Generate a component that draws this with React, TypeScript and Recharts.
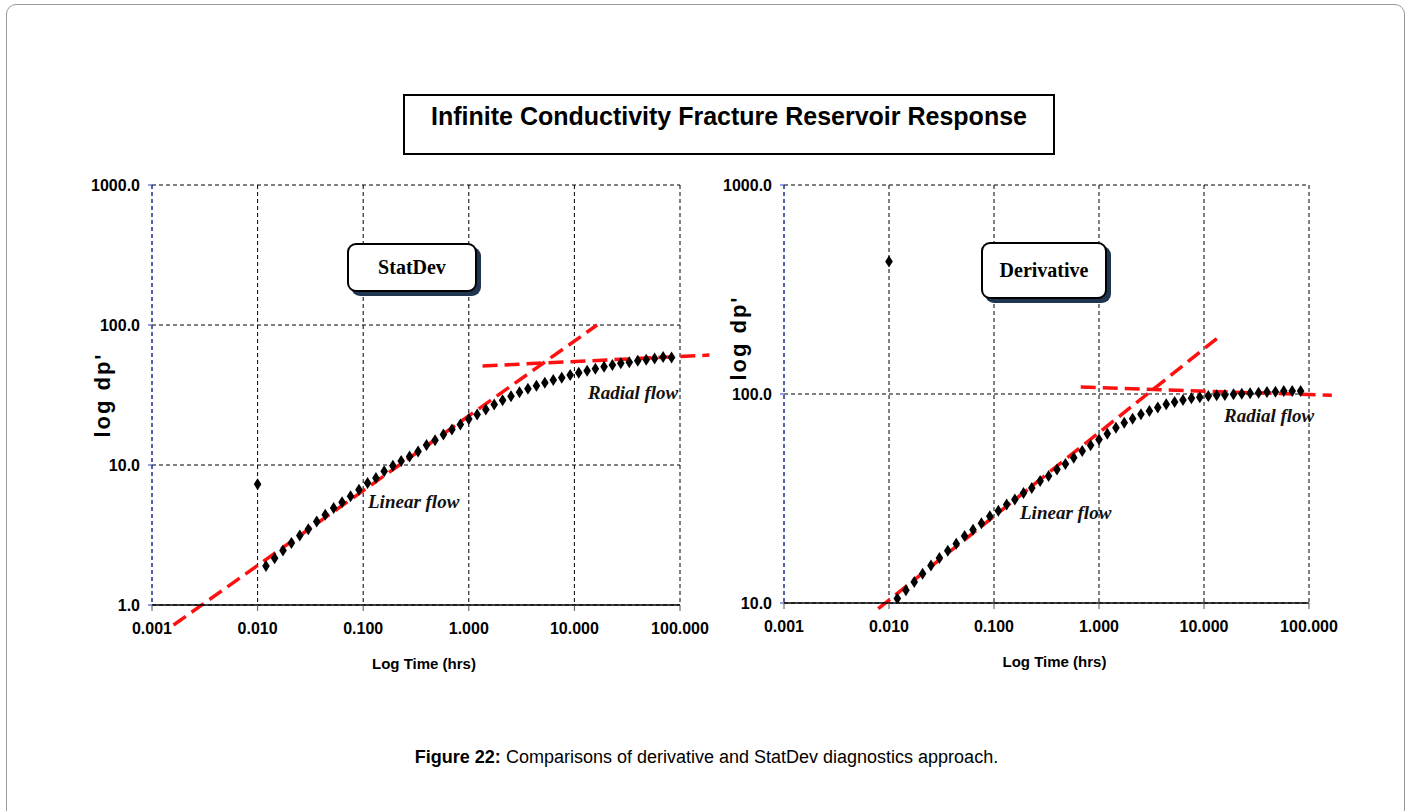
import React from 'react';
import {
    ScatterChart,
    Scatter,
    XAxis,
    YAxis,
    CartesianGrid,
    ReferenceLine,
} from 'recharts';

// sample times (hrs), shared by both panels
const times = [
    0.012, 0.0145, 0.0174, 0.0209, 0.0251, 0.0302, 0.0363, 0.0437, 0.0525, 0.0631,
    0.0759, 0.0912, 0.11, 0.132, 0.158, 0.191, 0.229, 0.275, 0.331, 0.398,
    0.479, 0.575, 0.692, 0.832, 1.0, 1.2, 1.45, 1.74, 2.09, 2.51,
    3.02, 3.63, 4.37, 5.25, 6.31, 7.59, 9.12, 11.0, 13.2, 15.8,
    19.1, 22.9, 27.5, 33.1, 39.8, 47.9, 57.5, 69.2, 83.2,
];

const statDev = [
    1.9, 2.16, 2.45, 2.77, 3.14, 3.48, 3.95, 4.41, 4.92, 5.43,
    5.97, 6.66, 7.43, 8.07, 9.01, 9.89, 10.7, 11.5, 12.5, 13.9,
    15.0, 16.5, 17.9, 19.5, 21.3, 22.9, 24.9, 27.0, 29.0, 31.0,
    33.1, 35.0, 36.8, 38.7, 40.4, 42.0, 43.9, 45.6, 47.1, 48.7,
    50.3, 51.7, 53.2, 54.3, 55.6, 56.5, 57.7, 59.0, 58.7,
];

const derivative = [
    10.5, 11.5, 12.6, 13.8, 15.1, 16.4, 17.8, 19.2, 20.9, 22.4,
    24.1, 26.0, 27.6, 29.6, 31.3, 33.6, 35.5, 38.3, 40.5, 43.5,
    46.3, 49.5, 53.3, 56.8, 60.6, 64.6, 69.0, 72.9, 76.2, 80.0,
    83.0, 86.1, 89.2, 91.6, 93.6, 95.3, 96.4, 97.7, 98.6, 98.9,
    99.6, 100.4, 100.7, 101.4, 102.2, 102.5, 103.3, 103.3, 103.3,
];

// first (spurious) point at t = 0.01
const outlierTime = [0.01];
const statDevOutlier = [7.3];
const derivativeOutlier = [430];

// flow-regime straight lines: [[t1, v1], [t2, v2]]
const statLinear = [[0.0016, 0.72], [16.4, 100]];
const statRadial = [[1.35, 51], [190, 61]];
const derivLinear = [[0.0079, 9.4], [14.7, 192]];
const derivRadial = [[0.67, 108], [165, 98.5]];

const xTicks = [0.001, 0.01, 0.1, 1, 10, 100];
const statTicks = [1, 10, 100, 1000];
const derivTicks = [10, 100, 1000];

const NARROW = "'Liberation Sans Narrow', 'Liberation Sans', Arial, sans-serif";
const SANS = "'Liberation Sans', Arial, sans-serif";
const SERIF = "'Liberation Serif', 'Times New Roman', serif";

const Diamond = (props: any) => {
    const { cx, cy } = props;
    if (cx == null || cy == null) return null;
    return (
        <polygon
            points={`${cx},${cy - 6} ${cx + 3.8},${cy} ${cx},${cy + 6} ${cx - 3.8},${cy}`}
            fill="#000"
        />
    );
};

interface PanelProps {
    left: number;
    marginLeft: number;
    marginRight: number;
    marginBottom: number;
    values: number[];
    outlier: number[];
    yTicks: number[];
    linear: number[][];
    radial: number[][];
    labelDy: number;
    labelOffset: number;
}

const Panel: React.FC<PanelProps> = ({
    left, marginLeft, marginRight, marginBottom, values, outlier, yTicks, linear, radial, labelDy, labelOffset,
}) => {
    const data = times.map((t, i) => ({ x: t, y: values[i] }));
    const extra = outlierTime.map((t, i) => ({ x: t, y: outlier[i] }));
    const dash = { stroke: '#ff1010', strokeWidth: 3.5, strokeDasharray: '15 7' };

    return (
        <div style={{ position: 'absolute', left, top: 0 }}>
            <ScatterChart
                width={720}
                height={700}
                margin={{ top: 185, right: marginRight, bottom: marginBottom, left: marginLeft }}
            >
                <CartesianGrid stroke="#000" strokeDasharray="4 3" />
                <XAxis
                    dataKey="x"
                    type="number"
                    scale="log"
                    domain={[0.001, 100]}
                    ticks={xTicks}
                    allowDataOverflow
                    tickFormatter={(v: number) => v.toFixed(3)}
                    height={60}
                    axisLine={{ stroke: '#000', strokeWidth: 1.5 }}
                    tickLine={{ stroke: '#555' }}
                    tickSize={6}
                    tickMargin={12}
                    tick={{ fill: '#000', fontSize: 16, fontWeight: 700, fontFamily: NARROW }}
                    label={{
                        value: 'Log Time (hrs)',
                        position: 'insideBottom',
                        offset: -4,
                        dx: 8,
                        style: { fill: '#000', fontSize: 15, fontWeight: 700, fontFamily: NARROW },
                    }}
                />
                <YAxis
                    dataKey="y"
                    type="number"
                    scale="log"
                    domain={[yTicks[0], yTicks[yTicks.length - 1]]}
                    ticks={yTicks}
                    allowDataOverflow
                    tickFormatter={(v: number) => v.toFixed(1)}
                    width={60}
                    axisLine={{ stroke: '#2a3fd6', strokeDasharray: '4 3' }}
                    tickLine={{ stroke: '#2a3fd6' }}
                    tickSize={4}
                    tickMargin={8}
                    tick={{ fill: '#000', fontSize: 16, fontWeight: 700, fontFamily: NARROW }}
                    label={{
                        value: "log dp'",
                        angle: -90,
                        position: 'insideLeft',
                        offset: labelOffset,
                        dy: labelDy,
                        style: { fill: '#000', fontSize: 22, fontWeight: 700, fontFamily: SANS, letterSpacing: 2, textAnchor: 'middle' },
                    }}
                />
                <ReferenceLine
                    segment={[{ x: linear[0][0], y: linear[0][1] }, { x: linear[1][0], y: linear[1][1] }]}
                    ifOverflow="visible"
                    {...dash}
                />
                <ReferenceLine
                    segment={[{ x: radial[0][0], y: radial[0][1] }, { x: radial[1][0], y: radial[1][1] }]}
                    ifOverflow="visible"
                    {...dash}
                />
                <Scatter data={data} shape={Diamond} isAnimationActive={false} />
                <Scatter data={extra} shape={Diamond} isAnimationActive={false} />
            </ScatterChart>
        </div>
    );
};

const Callout: React.FC<{ text: string; left: number; top: number; width: number; height: number }> = ({
    text, left, top, width, height,
}) => (
    <div
        style={{
            position: 'absolute', left, top, width, height, boxSizing: 'border-box',
            border: '2px solid #000', borderRadius: 9, background: '#fff',
            boxShadow: '4px 4px 0 #1f3550',
            display: 'flex', alignItems: 'center', justifyContent: 'center',
            fontFamily: SERIF, fontWeight: 700, fontSize: 20, color: '#000',
        }}
    >
        {text}
    </div>
);

const Note: React.FC<{ text: string; left: number; top: number }> = ({ text, left, top }) => (
    <div
        style={{
            position: 'absolute', left, top, whiteSpace: 'nowrap',
            fontFamily: SERIF, fontWeight: 700, fontStyle: 'italic', fontSize: 19, lineHeight: '20px', color: '#111',
        }}
    >
        {text}
    </div>
);

export default function App() {
    return (
        <div style={{ position: 'absolute', left: 0, top: 0, width: 1413, height: 811, overflow: 'hidden', background: '#fff' }}>
            {/* outer frame */}
            <div
                style={{
                    position: 'absolute', left: 6, top: 4, width: 1399, height: 840, boxSizing: 'border-box',
                    border: '1px solid #9a9a9a', borderRadius: 10,
                }}
            />

            {/* title */}
            <div
                style={{
                    position: 'absolute', left: 403, top: 94, width: 652, height: 61, boxSizing: 'border-box',
                    border: '2px solid #000', textAlign: 'center', paddingTop: 7,
                    fontFamily: NARROW, fontWeight: 700, fontSize: 25, lineHeight: '26px', color: '#000',
                }}
            >
                Infinite Conductivity Fracture Reservoir Response
            </div>

            <Panel
                left={0}
                marginLeft={92}
                marginRight={40}
                marginBottom={35}
                values={statDev}
                outlier={statDevOutlier}
                yTicks={statTicks}
                linear={statLinear}
                radial={statRadial}
                labelDy={0}
                labelOffset={10}
            />
            <Panel
                left={640}
                marginLeft={84}
                marginRight={51}
                marginBottom={37}
                values={derivative}
                outlier={derivativeOutlier}
                yTicks={derivTicks}
                linear={derivLinear}
                radial={derivRadial}
                labelDy={-56}
                labelOffset={14}
            />

            <Callout text="StatDev" left={347} top={243} width={130} height={49} />
            <Callout text="Derivative" left={981} top={242} width={126} height={57} />

            <Note text="Linear flow" left={368} top={492} />
            <Note text="Radial flow" left={588} top={383} />
            <Note text="Linear flow" left={1020} top={503} />
            <Note text="Radial flow" left={1224} top={406} />

            {/* caption */}
            <div
                style={{
                    position: 'absolute', left: 0, top: 746, width: 1413, textAlign: 'center',
                    fontFamily: SANS, fontSize: 18, lineHeight: '22px', color: '#000',
                }}
            >
                <b>Figure 22:</b> Comparisons of derivative and StatDev diagnostics approach.
            </div>
        </div>
    );
}
